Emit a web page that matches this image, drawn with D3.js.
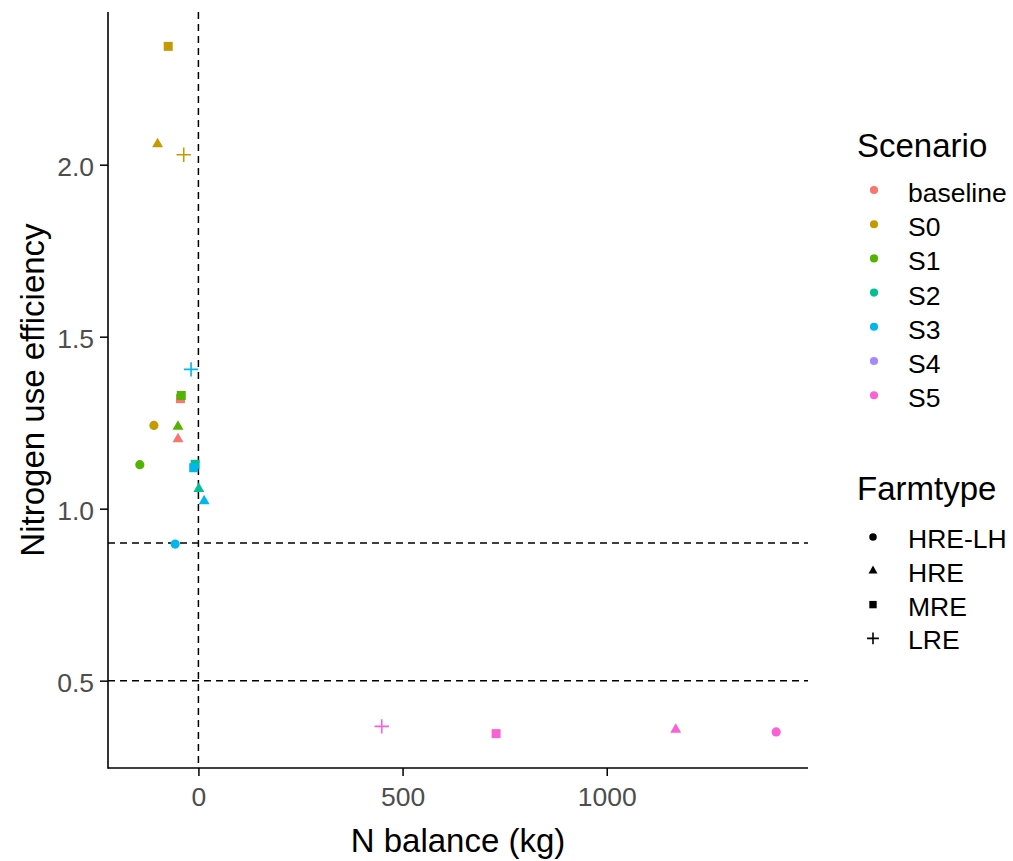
<!DOCTYPE html>
<html>
<head>
<meta charset="utf-8">
<script src="https://cdn.jsdelivr.net/npm/d3@7"></script>
<style>
  html, body { margin: 0; padding: 0; background: #ffffff; }
  svg { display: block; font-family: "Liberation Sans", Arial, sans-serif; }
</style>
</head>
<body>
<svg id="chart" width="1013" height="861"></svg>
<script>
// Scenario and farm type levels
const scenarios = ["baseline", "S0", "S1", "S2", "S3", "S4", "S5"];
const scenarioColors = ["#F8766D", "#C49A00", "#53B400", "#00C094", "#00B6EB", "#A58AFF", "#FB61D7"];
const farmtypes = ["HRE-LH", "HRE", "MRE", "LRE"];

// One entry per farm x scenario result
const pointScenario = ["baseline", "baseline",
  "S0", "S0", "S0", "S0",
  "S1", "S1", "S1",
  "S2", "S2",
  "S3", "S3", "S3", "S3",
  "S5", "S5", "S5", "S5"];
const pointFarmtype = ["HRE", "MRE",
  "HRE-LH", "HRE", "MRE", "LRE",
  "HRE-LH", "HRE", "MRE",
  "HRE", "MRE",
  "HRE-LH", "HRE", "MRE", "LRE",
  "HRE-LH", "HRE", "MRE", "LRE"];
const nBalance = [-50, -44,
  -109, -100, -74, -36,
  -143.5, -50, -42,
  1, -8,
  -57, 14, -11.5, -18,
  1415, 1169, 729, 449];
const nue = [1.202, 1.320,
  1.242, 2.060, 2.344, 2.029,
  1.128, 1.2385, 1.329,
  1.058, 1.129,
  0.897, 1.022, 1.119, 1.405,
  0.351, 0.358, 0.346, 0.367];

// Reference thresholds
const vLines = [0];
const hLines = [0.9, 0.5];

const xTicks = [0, 500, 1000];
const yTicks = [0.5, 1.0, 1.5, 2.0];

const data = nBalance.map((x, i) => ({
  scenario: pointScenario[i], farmtype: pointFarmtype[i], x: x, y: nue[i]
}));

const svg = d3.select("#chart");
svg.append("rect").attr("width", 1013).attr("height", 861).attr("fill", "#fff");

const panel = { left: 108, right: 808, top: 12, bottom: 768 };

function expanded(ext, f) {
  const pad = (ext[1] - ext[0]) * f;
  return [ext[0] - pad, ext[1] + pad];
}

const x = d3.scaleLinear()
  .domain(expanded(d3.extent(data, d => d.x), 0.05))
  .range([panel.left, panel.right]);
const y = d3.scaleLinear()
  .domain(expanded(d3.extent(data, d => d.y), 0.05))
  .range([panel.bottom, panel.top]);

const color = d3.scaleOrdinal().domain(scenarios).range(scenarioColors);

// Reference lines
const g = svg.append("g");
g.selectAll("line.v").data(vLines).join("line")
  .attr("x1", d => x(d)).attr("x2", d => x(d))
  .attr("y1", panel.top).attr("y2", panel.bottom)
  .attr("stroke", "#000").attr("stroke-width", 1.5).attr("stroke-dasharray", "7,5");
g.selectAll("line.h").data(hLines).join("line")
  .attr("x1", panel.left).attr("x2", panel.right)
  .attr("y1", d => y(d)).attr("y2", d => y(d))
  .attr("stroke", "#000").attr("stroke-width", 1.5).attr("stroke-dasharray", "7,5");

// Marker drawing, one shape per farm type
function drawShape(sel, type, col, scale) {
  const s = scale;
  if (type === "HRE-LH") {
    sel.append("path").attr("d", d3.symbol(d3.symbolCircle, 66 * s * s)()).attr("fill", col);
  } else if (type === "HRE") {
    sel.append("path").attr("d", d3.symbol(d3.symbolTriangle, 52 * s * s)()).attr("fill", col);
  } else if (type === "MRE") {
    sel.append("path").attr("d", d3.symbol(d3.symbolSquare, 81 * s * s)()).attr("fill", col);
  } else {
    const h = 7.2 * s;
    sel.append("path")
      .attr("d", `M${-h},0H${h}M0,${-h}V${h}`)
      .attr("stroke", col).attr("stroke-width", 1.6).attr("fill", "none");
  }
}

const pts = svg.append("g");
data.forEach(d => {
  const gp = pts.append("g").attr("transform", `translate(${x(d.x)},${y(d.y)})`);
  drawShape(gp, d.farmtype, color(d.scenario), 1);
});

// Axes
const xAxis = d3.axisBottom(x).tickValues(xTicks).tickSize(8).tickPadding(11).tickFormat(d3.format("d"));
const yAxis = d3.axisLeft(y).tickValues(yTicks).tickSize(8).tickPadding(6).tickFormat(d3.format(".1f"));

const gx = svg.append("g").attr("transform", `translate(0,${panel.bottom})`).call(xAxis);
const gy = svg.append("g").attr("transform", `translate(${panel.left},0)`).call(yAxis);
[gx, gy].forEach(ax => {
  ax.select(".domain").remove();
  ax.selectAll(".tick line").attr("stroke", "#000").attr("stroke-width", 1.5);
  ax.selectAll(".tick text").attr("fill", "#4D4D4D")
    .style("font-size", "26.5px").style("font-family", "'Liberation Sans', Arial, sans-serif");
});
gy.selectAll(".tick text").attr("dy", "0.42em");

svg.append("line").attr("x1", panel.left).attr("x2", panel.right)
  .attr("y1", panel.bottom).attr("y2", panel.bottom)
  .attr("stroke", "#000").attr("stroke-width", 1.6);
svg.append("line").attr("x1", panel.left).attr("x2", panel.left)
  .attr("y1", panel.top).attr("y2", panel.bottom + 0.8)
  .attr("stroke", "#000").attr("stroke-width", 1.6);

// Axis titles
svg.append("text")
  .attr("x", (panel.left + panel.right) / 2).attr("y", 852)
  .attr("text-anchor", "middle").style("font-size", "33px").attr("fill", "#000")
  .text("N balance (kg)");
svg.append("text")
  .attr("transform", `translate(44,${(panel.top + panel.bottom) / 2}) rotate(-90)`)
  .attr("text-anchor", "middle").style("font-size", "33px").attr("fill", "#000")
  .text("Nitrogen use efficiency");

// Legends
const leg = svg.append("g");
leg.append("text").attr("x", 857).attr("y", 157).style("font-size", "33px").text("Scenario");
scenarios.forEach((s, i) => {
  const yy = 190 + i * 34.2;
  leg.append("path").attr("transform", `translate(874,${yy})`)
    .attr("d", d3.symbol(d3.symbolCircle, 52)()).attr("fill", color(s));
  leg.append("text").attr("x", 908).attr("y", yy + 12).style("font-size", "26.5px").text(s);
});

leg.append("text").attr("x", 857).attr("y", 500).style("font-size", "33px").text("Farmtype");
farmtypes.forEach((f, i) => {
  const yy = 537 + i * 33.8;
  const gk = leg.append("g").attr("transform", `translate(873,${yy})`);
  drawShape(gk, f, "#000", 0.82);
  leg.append("text").attr("x", 908).attr("y", yy + 11).style("font-size", "26.5px").text(f);
});
</script>
</body>
</html>
